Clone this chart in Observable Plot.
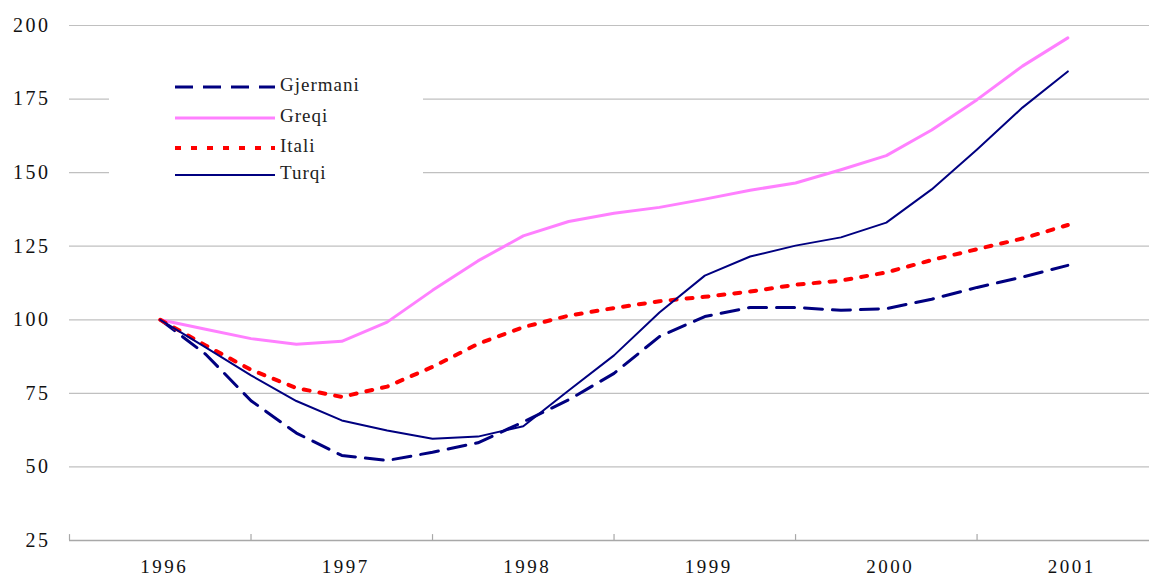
<!DOCTYPE html>
<html>
<head>
<meta charset="utf-8">
<script src="https://cdn.jsdelivr.net/npm/d3@7"></script>
<script src="https://cdn.jsdelivr.net/npm/@observablehq/plot@0.6"></script>
<style>
  html, body { margin: 0; padding: 0; background: #fff; }
  #wrap { position: relative; width: 1149px; height: 576px; overflow: hidden; }
  #chart svg text { letter-spacing: 2.5px; }
  #legend { position: absolute; left: 109px; top: 62px; width: 314px; height: 132px; background: #fff; }
  #legend text { font-family: "Liberation Serif", "Times New Roman", serif; font-size: 19px; letter-spacing: 1px; fill: #222; }
</style>
</head>
<body>
<div id="wrap">
  <div id="chart"></div>
  <svg id="legend" width="314" height="132"></svg>
</div>
<script>
// Quarterly periods (1996 Q1 ... 2001 Q1)
const periods = [1996.00, 1996.25, 1996.50, 1996.75, 1997.00, 1997.25, 1997.50, 1997.75,
                 1998.00, 1998.25, 1998.50, 1998.75, 1999.00, 1999.25, 1999.50, 1999.75,
                 2000.00, 2000.25, 2000.50, 2000.75, 2001.00];
const series = ["Gjermani", "Greqi", "Itali", "Turqi"];
const gjermani = [100, 88.3, 72.5, 61.5, 53.9, 52.2, 55.0, 58.2, 65.3, 72.8, 81.8, 94.3, 101.1, 104.2, 104.2, 103.2, 103.8, 107.0, 111.0, 114.5, 118.5];
const greqi    = [100, 96.8, 93.6, 91.7, 92.7, 99.2, 110.0, 120.0, 128.5, 133.4, 136.2, 138.2, 141.0, 144.0, 146.5, 151.0, 155.8, 164.5, 174.8, 186.2, 195.8];
const itali    = [100, 91.3, 83.0, 76.8, 73.8, 77.3, 84.0, 91.8, 97.5, 101.4, 104.0, 106.3, 107.8, 109.6, 111.9, 113.3, 116.1, 120.3, 124.0, 127.6, 132.2];
const turqi    = [100, 90.6, 81.1, 72.4, 65.8, 62.4, 59.6, 60.3, 63.8, 76.0, 87.9, 102.5, 115.0, 121.5, 125.2, 128.0, 133.0, 144.3, 157.9, 172.1, 184.4];
const yearLabels = [1996, 1997, 1998, 1999, 2000, 2001];
const yearBoundaries = [1995.5, 1996.5, 1997.5, 1998.5, 1999.5, 2000.5];
const yTicks = [25, 50, 75, 100, 125, 150, 175, 200];

const values = [gjermani, greqi, itali, turqi];
const styles = {
  Gjermani: {stroke: "#000080", strokeWidth: 3, strokeDasharray: "18,10"},
  Greqi:    {stroke: "#ff80ff", strokeWidth: 3},
  Itali:    {stroke: "#ff0000", strokeWidth: 4, strokeDasharray: "6,10"},
  Turqi:    {stroke: "#000080", strokeWidth: 2}
};

const rows = series.map((s, i) => periods.map((p, j) => ({series: s, t: p, v: values[i][j]})));

const chart = Plot.plot({
  width: 1149,
  height: 576,
  marginLeft: 69,
  marginRight: 0,
  marginTop: 25,
  marginBottom: 36,
  style: {fontFamily: "'Liberation Serif', 'Times New Roman', serif", fontSize: "19px", color: "#111", background: "#fff"},
  x: {domain: [1995.5, 2001.45], label: null},
  y: {domain: [25, 200], label: null},
  marks: [
    Plot.ruleY(yTicks.filter(d => d > 25), {stroke: "#c0c0c0", strokeWidth: 1.2}),
    Plot.ruleY([25], {stroke: "#a8a8a8", strokeWidth: 1.5}),
    Plot.ruleX(yearBoundaries, {y1: 25, y2: 27, stroke: "#a8a8a8", strokeWidth: 1.2}),
    Plot.axisY(yTicks, {tickSize: 0, tickPadding: 19, fontSize: 20, fill: "#111", label: null}),
    Plot.axisX(yearLabels, {tickSize: 0, tickPadding: 19, fontSize: 19, fill: "#111", tickFormat: d => String(d), dx: 4, label: null}),
    ...rows.map((r, i) => Plot.line(r, {x: "t", y: "v", ...styles[series[i]]}))
  ]
});
document.getElementById("chart").appendChild(chart);

// Legend (white box over the gridlines)
const leg = d3.select("#legend");
const itemY = [25, 56, 86, 113];
series.forEach((s, i) => {
  const st = styles[s];
  leg.append("line")
    .attr("x1", 66).attr("x2", 166)
    .attr("y1", itemY[i]).attr("y2", itemY[i])
    .attr("stroke", st.stroke)
    .attr("stroke-width", st.strokeWidth)
    .attr("stroke-dasharray", st.strokeDasharray || null);
  leg.append("text")
    .attr("x", 171).attr("y", itemY[i] - 3)
    .attr("dy", "0.35em")
    .text(s);
});
</script>
</body>
</html>
